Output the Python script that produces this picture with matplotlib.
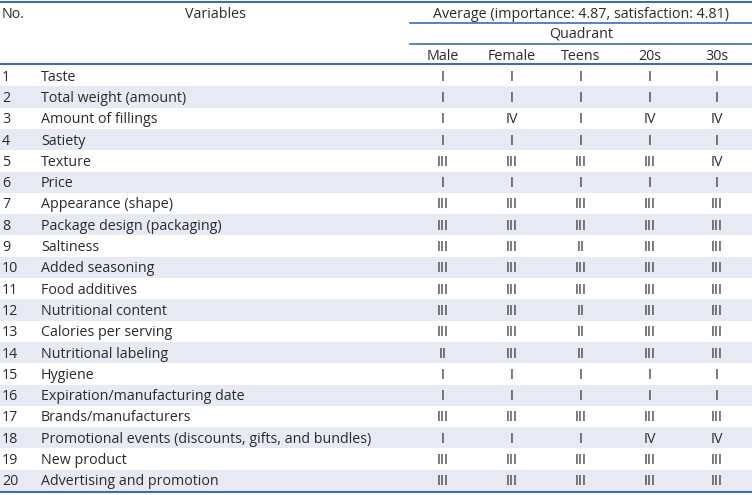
import matplotlib.pyplot as plt

plt.rcParams['font.family'] = ['Open Sans', 'DejaVu Sans']

variables = [
    "Taste", "Total weight (amount)", "Amount of fillings", "Satiety", "Texture",
    "Price", "Appearance (shape)", "Package design (packaging)", "Saltiness",
    "Added seasoning", "Food additives", "Nutritional content", "Calories per serving",
    "Nutritional labeling", "Hygiene", "Expiration/manufacturing date",
    "Brands/manufacturers", "Promotional events (discounts, gifts, and bundles)",
    "New product", "Advertising and promotion",
]
groups = ["Male", "Female", "Teens", "20s", "30s"]
male = ["I", "I", "I", "I", "III", "I", "III", "III", "III", "III", "III", "III", "III", "II", "I", "I", "III", "I", "III", "III"]
female = ["I", "I", "IV", "I", "III", "I", "III", "III", "III", "III", "III", "III", "III", "III", "I", "I", "III", "I", "III", "III"]
teens = ["I", "I", "I", "I", "III", "I", "III", "III", "II", "III", "III", "II", "II", "II", "I", "I", "III", "I", "III", "III"]
twenties = ["I", "I", "IV", "I", "III", "I", "III", "III", "III", "III", "III", "III", "III", "III", "I", "I", "III", "IV", "III", "III"]
thirties = ["I", "I", "IV", "I", "IV", "I", "III", "III", "III", "III", "III", "III", "III", "III", "I", "I", "III", "IV", "III", "III"]
columns = [male, female, teens, twenties, thirties]

W, H = 752, 495
fig = plt.figure(figsize=(W / 100, H / 100), dpi=100)
ax = fig.add_axes([0, 0, 1, 1])
ax.set_xlim(0, W)
ax.set_ylim(H, 0)
ax.axis('off')

txt = '#2b2b2b'
line_c = '#3b6db0'
stripe = '#e9e9f4'
fs = 10.3

col_x = [443, 512, 581, 650, 717]
row_top = 65
row_h = 21.3
dy = 1.5  # nudge text down a little

# header
ax.plot([0, W], [2, 2], color=line_c, lw=1.5)
ax.text(2, 13 + dy, "No.", ha='left', va='center', fontsize=fs, color=txt)
ax.text(215, 13 + dy, "Variables", ha='center', va='center', fontsize=fs, color=txt)
ax.text(581, 13 + dy, "Average (importance: 4.87, satisfaction: 4.81)", ha='center', va='center', fontsize=fs, color=txt)
ax.plot([410, W], [22.5, 22.5], color=line_c, lw=1.2)
ax.text(581, 33 + dy, "Quadrant", ha='center', va='center', fontsize=fs, color=txt)
ax.plot([410, W], [44, 44], color=line_c, lw=1.2)
for x, g in zip(col_x, groups):
    ax.text(x, 55 + dy, g, ha='center', va='center', fontsize=fs, color=txt)

# rows
for i, var in enumerate(variables):
    y0 = row_top + i * row_h
    if i % 2 == 1:
        ax.add_patch(plt.Rectangle((0, y0), W, row_h, color=stripe, lw=0))
    yc = y0 + row_h / 2 + dy
    ax.text(2, yc, str(i + 1), ha='left', va='center', fontsize=fs, color=txt)
    ax.text(41, yc, var, ha='left', va='center', fontsize=fs, color=txt)
    for x, col in zip(col_x, columns):
        ax.text(x, yc, col[i], ha='center', va='center', fontsize=fs, color=txt)

ax.plot([0, W], [64, 64], color=line_c, lw=1.5)
ax.plot([0, W], [row_top + len(variables) * row_h + 0.5] * 2, color=line_c, lw=1.5)

fig.savefig('out.png', dpi=100)
